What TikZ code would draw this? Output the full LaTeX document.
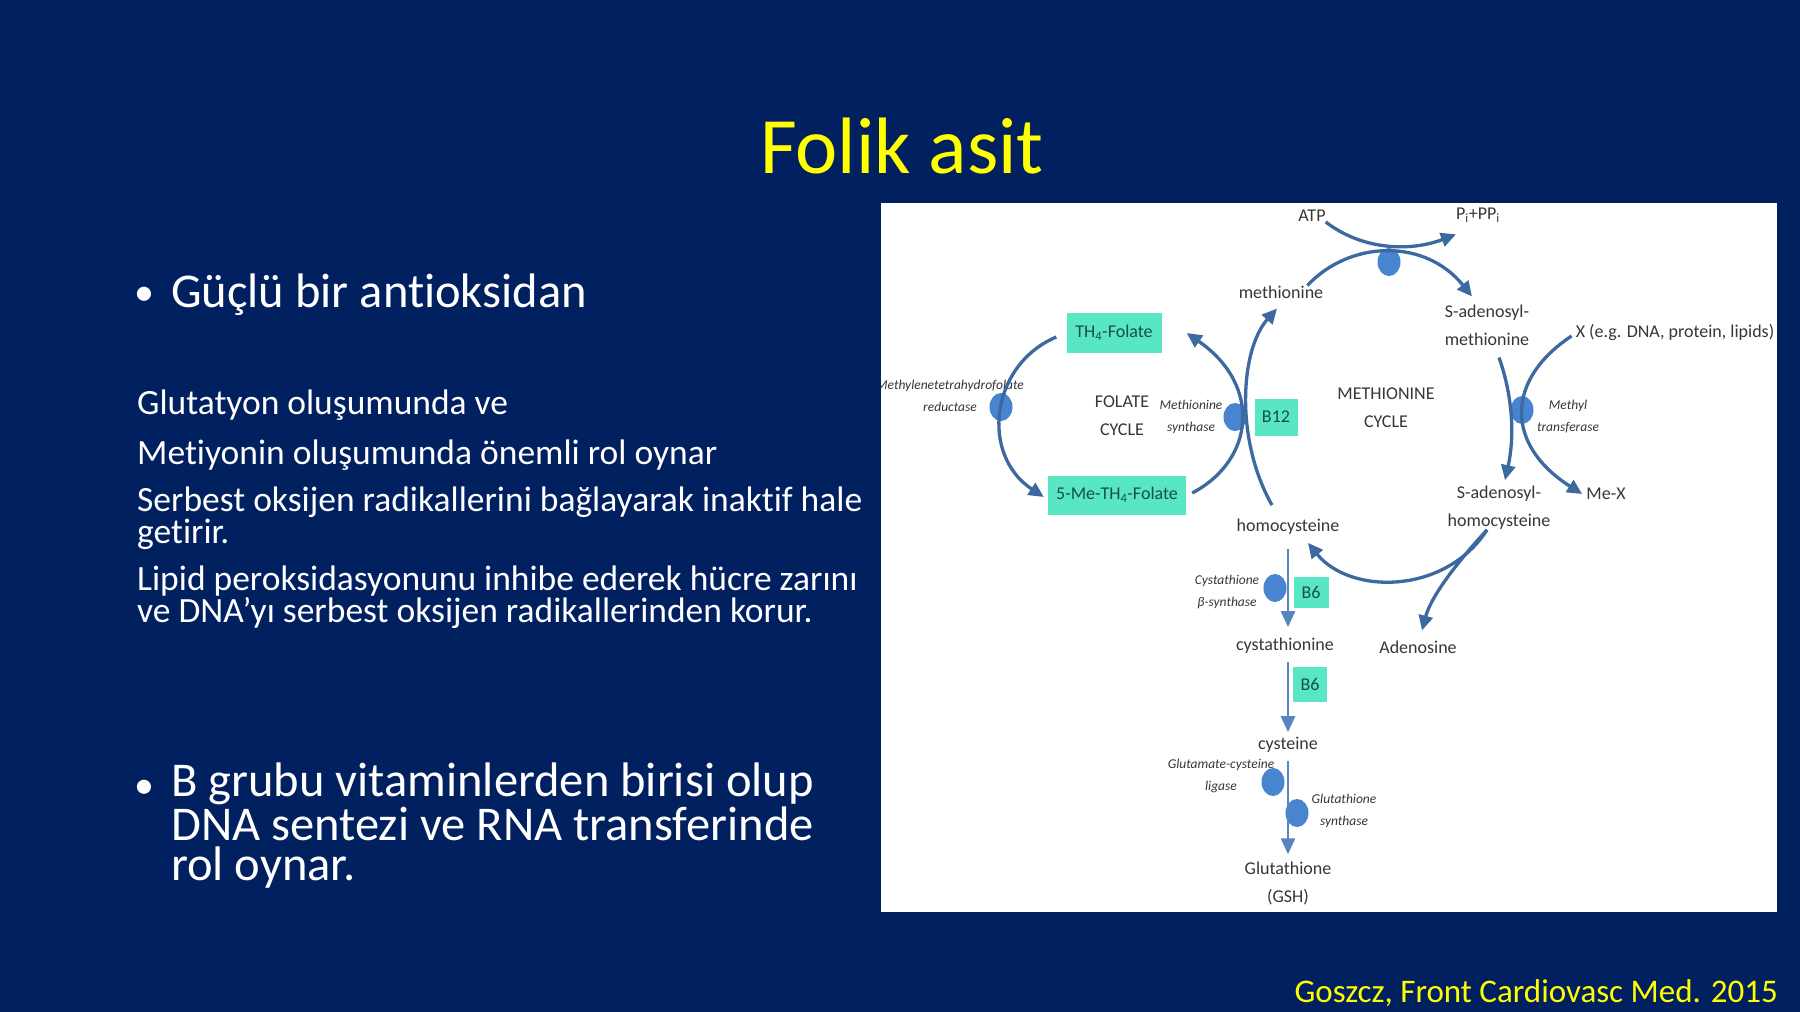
\documentclass[tikz,border=0pt]{standalone}
\usepackage{fontspec}
\setmainfont{Carlito}[Ligatures={NoCommon}]
\usepackage{tikz}
\usetikzlibrary{arrows.meta,shapes.geometric}

\definecolor{slidebg}{RGB}{0,32,96}
\definecolor{titleyellow}{RGB}{255,255,0}
\definecolor{vitgreen}{RGB}{88,230,196}
\definecolor{vittext}{RGB}{20,80,70}
\definecolor{enzblue}{RGB}{72,132,208}
\definecolor{pathblue}{RGB}{60,105,160}
\definecolor{stepblue}{RGB}{88,132,192}
\definecolor{labelgray}{RGB}{55,55,55}

\begin{document}
\begin{tikzpicture}[x=1pt, y=-1pt,
    every node/.style={inner sep=0pt},
    bigtext/.style={text=white, anchor=base west, align=left, font=\fontsize{48.5}{40}\selectfont},
    slidetext/.style={text=white, anchor=base west, align=left, font=\fontsize{35.5}{30}\selectfont},
    metab/.style={text=labelgray, align=center, font=\fontsize{18}{28}\selectfont},
    vitbox/.style={fill=vitgreen, text=vittext, font=\fontsize{18}{22}\selectfont},
    enz/.style={ellipse, fill=enzblue, minimum width=23pt, minimum height=28pt},
    enzlabel/.style={text=labelgray, align=center, font=\fontsize{13.5}{22}\selectfont\itshape},
    flow/.style={draw=pathblue, line width=3.3pt, -{Triangle[length=15pt,width=14pt]}},
    downflow/.style={draw=stepblue, line width=2.8pt, -{Triangle[length=16pt,width=14pt]}},
    ]
    \useasboundingbox (0,0) rectangle (1800,1012);
    \fill[slidebg] (0,0) rectangle (1800,1012);

    % title
    \node[text=titleyellow, anchor=base, font=\fontsize{80}{96}\selectfont] (title) at (902,173) {Folik asit};

    % left column (multi-line nodes sit on their last baseline)
    \node[bigtext, anchor=base, font=\fontsize{40}{40}\selectfont] (dot1) at (144,305) {•};
    \node[bigtext] (b1) at (171,307) {Güçlü bir antioksidan};

    \node[slidetext] (s1) at (137,414) {Glutatyon oluşumunda ve};
    \node[slidetext] (s2) at (137,464) {Metiyonin oluşumunda önemli rol oynar};
    \node[slidetext] (s3) at (137,543) {Serbest oksijen radikallerini bağlayarak inaktif hale\\getirir.};
    \node[slidetext] (s4) at (137,622) {Lipid peroksidasyonunu inhibe ederek hücre zarını\\ve DNA’yı serbest oksijen radikallerinden korur.};

    \node[bigtext, anchor=base, font=\fontsize{40}{40}\selectfont] (dot2) at (144,798) {•};
    \node[bigtext] (b2) at (171,880) {B grubu vitaminlerden birisi olup\\DNA sentezi ve RNA transferinde\\rol oynar.};

    \node[text=titleyellow, anchor=base east, font=\fontsize{33}{40}\selectfont] (cite) at (1778,1002) {Goszcz, Front Cardiovasc Med. 2015};

    % pathway panel
    \fill[white] (881,203) rectangle (1777,912);
    \begin{scope}
    \clip (881,203) rectangle (1777,912);

    \node[metab] (atp) at (1312,216) {ATP};
    \node[metab] (pipp) at (1478,215) {P\textsubscript{i}+PP\textsubscript{i}};
    \node[metab] (met) at (1281,292) {methionine};
    \node[metab] (sam) at (1487,325) {S-adenosyl-\\methionine};
    \node[metab] (xdna) at (1675,332) {X (e.g. DNA, protein, lipids)};
    \node[metab] (mex) at (1606,494) {Me-X};
    \node[metab] (sah) at (1499,508) {S-adenosyl-\\homocysteine};
    \node[metab] (hcy) at (1288,527) {homocysteine};
    \node[metab] (ado) at (1418,647) {Adenosine};
    \node[metab] (cysta) at (1285,646) {cystathionine};
    \node[metab] (cys) at (1288,745) {cysteine};
    \node[metab] (gsh) at (1288,883) {Glutathione\\(GSH)};
    \node[metab] (folcyc) at (1122,416) {FOLATE\\CYCLE};
    \node[metab] (metcyc) at (1386,408) {METHIONINE\\CYCLE};

    \node[vitbox, minimum width=95pt, minimum height=40pt] (thf) at (1114,333) {TH\textsubscript{4}-Folate};
    \node[vitbox, minimum width=138pt, minimum height=39pt] (mthf) at (1117,495) {5-Me-TH\textsubscript{4}-Folate};
    \node[vitbox, minimum width=43pt, minimum height=37pt] (b12) at (1276,417) {B12};
    \node[vitbox, minimum width=35pt, minimum height=31pt] (b6a) at (1311,592) {B6};
    \node[vitbox, minimum width=34pt, minimum height=35pt] (b6b) at (1310,684) {B6};

    \node[enzlabel] (mthfrtxt) at (950,396) {Methylenetetrahydrofolate\\reductase};
    \node[enzlabel] (mstxt) at (1191,417) {Methionine\\synthase};
    \node[enzlabel] (mttxt) at (1568,417) {Methyl\\transferase};
    \node[enzlabel] (cbstxt) at (1227,592) {Cystathione\\β-synthase};
    \node[enzlabel] (gcltxt) at (1221,776) {Glutamate-cysteine\\ligase};
    \node[enzlabel] (gstxt) at (1344,811) {Glutathione\\synthase};

    \node[enz] (mthfr) at (1001,407) {};
    \node[enz] (ms) at (1235,417) {};
    \node[enz] (mat) at (1389,262) {};
    \node[enz] (mt) at (1522,410) {};
    \node[enz] (cbs) at (1275,588) {};
    \node[enz] (gcl) at (1273,782) {};
    \node[enz] (gs) at (1297,813) {};

    % methionine cycle
    \draw[flow] (atp.south east) .. controls (1362,250) and (1410,252) .. ([yshift=-12pt]pipp.south west);
    \draw[flow] ([xshift=-16pt]met.north east) .. controls (1350,240) and (1425,238) .. ([xshift=-15pt,yshift=8pt]sam.north);
    \draw[flow] ([xshift=12pt,yshift=-12pt]sam.south) .. controls (1514,400) and (1514,440) .. ([xshift=6pt,yshift=6pt]sah.north);
    \draw[flow] ([xshift=-4pt,yshift=-4pt]xdna.west) .. controls (1505,380) and (1505,445) .. ([xshift=-4pt]mex.west);
    \draw[flow] ([xshift=-12pt]sah.south) .. controls (1445,595) and (1350,595) .. ([xshift=20pt,yshift=-8pt]hcy.south);
    \draw[flow] ([xshift=-12pt]sah.south) .. controls (1450,570) and (1430,600) .. ([xshift=4pt,yshift=10pt]ado.north);
    \draw[flow] ([xshift=-16pt,yshift=14pt]hcy.north) .. controls (1235,440) and (1240,350) .. ([xshift=-4pt,yshift=-10pt]met.south);

    % folate cycle
    \draw[flow] ([xshift=6pt,yshift=2pt]mthf.east) .. controls (1255,460) and (1262,385) .. ([xshift=25pt]thf.east);
    \draw[flow] ([xshift=-10pt,yshift=-4pt]thf.west) .. controls (990,365) and (980,455) .. ([xshift=-4pt,yshift=-2pt]mthf.west);

    % transsulfuration
    \draw[downflow] ([yshift=-14pt]hcy.south) -- ([yshift=11pt]hcy.south |- cysta.north);
    \draw[downflow] ([xshift=3pt,yshift=-8pt]cysta.south) -- ([yshift=5pt]cys.north);
    \draw[downflow] ([yshift=-8pt]cys.south) -- ([yshift=7pt]gsh.north);
    \end{scope}
\end{tikzpicture}
\end{document}
